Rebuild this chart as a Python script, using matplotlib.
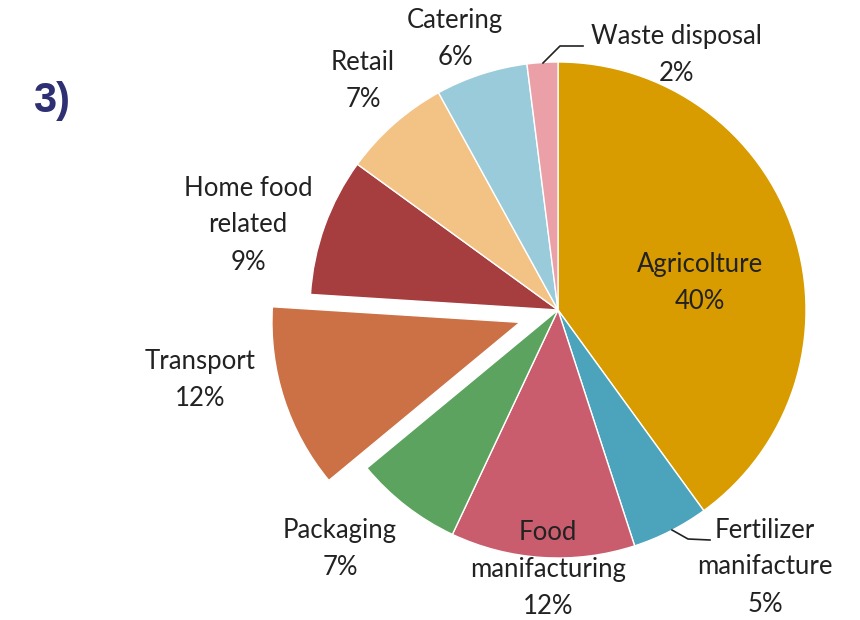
import matplotlib.pyplot as plt

sectors = ['Agricolture', 'Fertilizer\nmanifacture', 'Food\nmanifacturing', 'Packaging',
           'Transport', 'Home food\nrelated', 'Retail', 'Catering', 'Waste disposal']
shares = [40, 5, 12, 7, 12, 9, 7, 6, 2]
colors = ['#D89B00', '#4BA3BC', '#C95D6E', '#5BA35E', '#CB7145',
          '#A63D3F', '#F2C384', '#9ACBDB', '#EBA0A8']
# offset of the pulled-out slice, in the same pixel units as the radius
explode = [0, 0, 0, 0, 40, 0, 0, 0, 0]

# label anchor points, in figure pixels (y measured from the top)
label_pos = [(700, 283), (765, 567), (548, 569), (340, 549), (200, 380),
             (248, 225), (363, 81), (455, 39), (676, 55)]


def main():
	fig = plt.figure(figsize=(8.6, 6.2), dpi=100)
	ax = fig.add_axes([0, 0, 1, 1])

	ax.pie(shares, colors=colors, explode=explode, startangle=90, counterclock=False,
	       center=(558, 620 - 310), radius=248, frame=True,
	       wedgeprops=dict(edgecolor='white', linewidth=1))
	ax.set_xlim(0, 860)
	ax.set_ylim(0, 620)
	ax.axis('off')

	for name, pct, (x, y) in zip(sectors, shares, label_pos):
		ax.text(x, 620 - y, name + '\n' + str(pct) + '%', ha='center', va='center',
		        fontsize=18.5, family='Lato', color='#222222', linespacing=1.6)

	# leader lines for the two small labels
	ax.plot([543, 560, 583], [620 - 63, 620 - 46, 620 - 46], color='#222222', lw=1.2)
	ax.plot([672, 688, 710], [620 - 530, 620 - 539, 620 - 540], color='#222222', lw=1.2)

	fig.text(52 / 860, 1 - 101 / 620, '3)', ha='center', va='center', fontsize=30,
	         fontweight='bold', family='Liberation Sans', color='#2E3073')

	fig.savefig('out.png', dpi=100)


if __name__ == "__main__":
	main()
